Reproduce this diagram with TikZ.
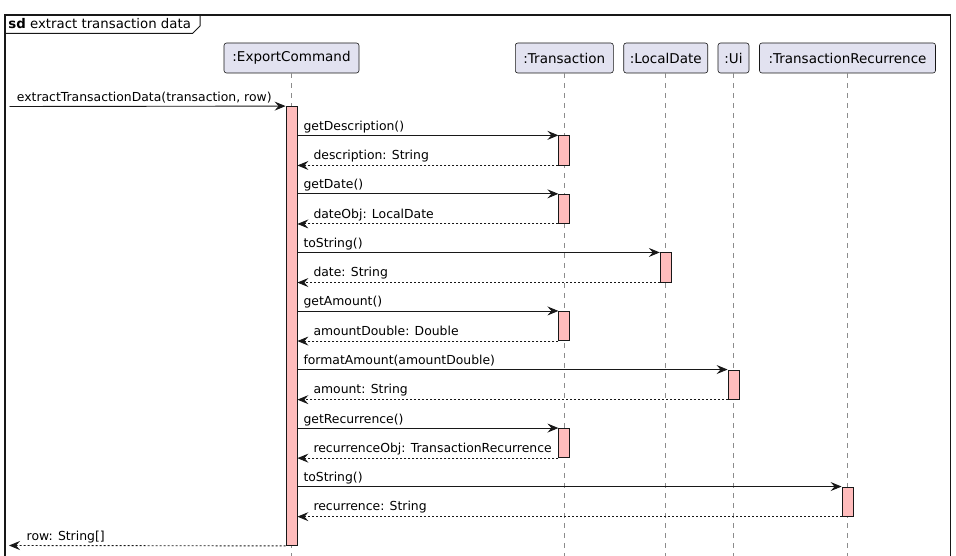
\documentclass[tikz,border=0pt]{standalone}
\usepackage{fontspec}
\setmainfont{DejaVu Sans}
\usetikzlibrary{arrows.meta}
\definecolor{partfill}{HTML}{E2E2F0}
\definecolor{actfill}{HTML}{FFBCBC}
\definecolor{ink}{HTML}{181818}
\definecolor{lifegray}{HTML}{8C8C8C}
\begin{document}
\begin{tikzpicture}[x=1pt,y=-1pt,
  part/.style={draw=ink, fill=partfill, rounded corners=2.5pt, line width=0.6pt,
    minimum height=30pt, inner sep=0pt, font=\fontsize{13.5}{16}\selectfont},
  act/.style={draw=ink, fill=actfill, line width=0.8pt, minimum width=11pt, inner sep=0pt},
  life/.style={draw=lifegray, dash pattern=on 5pt off 5pt, line width=0.7pt},
  call/.style={draw=ink, line width=0.9pt, -{Stealth[length=11pt,width=9pt,inset=4pt]}},
  ret/.style={call, dash pattern=on 2pt off 2pt},
  msg/.style={anchor=base west, inner sep=0pt, font=\fontsize{12.4}{15}\selectfont}]
\useasboundingbox (0,0) rectangle (956,556);
\clip (0,0) rectangle (956,556);
% frame
\draw[ink, line width=1.3pt] (5,15) rectangle (950.5,620);
\draw[ink, line width=1pt] (5,33.3) -- (192.7,33.3) -- (200,26) -- (200,15);
\node[anchor=base west, inner sep=0pt, font=\fontsize{13.3}{16}\selectfont] (title) at (8.3,29) {\textbf{sd} extract transaction data};
% participants
\node[part, minimum width=135pt] (pExp) at (291.5,58) {:ExportCommand};
\node[part, minimum width=98pt] (pTx) at (564.3,58) {:Transaction};
\node[part, minimum width=84pt] (pLD) at (665.7,58) {:LocalDate};
\node[part, minimum width=31pt] (pUi) at (733.5,58) {:Ui};
\node[part, minimum width=176pt] (pTR) at (847.5,58) {:TransactionRecurrence};
\coordinate (bot) at (0,600);
\foreach \p in {pExp,pTx,pLD,pUi,pTR}
  \draw[life] (\p.south) -- (\p.south |- bot);
% activations
\node[act, minimum height=439pt] (aExp) at (291.5,326) {};
\node[act, minimum height=29.3pt] (aTx1) at (564.3,150.4) {};
\node[act, minimum height=29.3pt] (aTx2) at (564.3,208.9) {};
\node[act, minimum height=29.3pt] (aLD) at (665.7,267.5) {};
\node[act, minimum height=29.3pt] (aTx3) at (564.3,326.0) {};
\node[act, minimum height=29.3pt] (aUi) at (733.5,384.6) {};
\node[act, minimum height=29.3pt] (aTx4) at (564.3,443.1) {};
\node[act, minimum height=29.3pt] (aTR) at (847.5,501.6) {};
% incoming
\coordinate (src) at (9.5,106.5);
\draw[call] (src) -- (aExp.north west);
\node[msg] (l0) at (16.7,101.3) {extractTransactionData(transaction, row)};
% calls and returns
\draw[call] (aExp.east |- aTx1.north) -- (aTx1.north west);
\node[msg] (l1) at (303.3,130.3) {getDescription()};
\draw[ret] (aTx1.south west) -- (aExp.east |- aTx1.south);
\node[msg] (l2) at (313.3,159.6) {description: String};
\draw[call] (aExp.east |- aTx2.north) -- (aTx2.north west);
\node[msg] (l3) at (303.3,188.8) {getDate()};
\draw[ret] (aTx2.south west) -- (aExp.east |- aTx2.south);
\node[msg] (l4) at (313.3,218.1) {dateObj: LocalDate};
\draw[call] (aExp.east |- aLD.north) -- (aLD.north west);
\node[msg] (l5) at (303.3,247.4) {toString()};
\draw[ret] (aLD.south west) -- (aExp.east |- aLD.south);
\node[msg] (l6) at (313.3,276.7) {date: String};
\draw[call] (aExp.east |- aTx3.north) -- (aTx3.north west);
\node[msg] (l7) at (303.3,305.9) {getAmount()};
\draw[ret] (aTx3.south west) -- (aExp.east |- aTx3.south);
\node[msg] (l8) at (313.3,335.2) {amountDouble: Double};
\draw[call] (aExp.east |- aUi.north) -- (aUi.north west);
\node[msg] (l9) at (303.3,364.5) {formatAmount(amountDouble)};
\draw[ret] (aUi.south west) -- (aExp.east |- aUi.south);
\node[msg] (l10) at (313.3,393.7) {amount: String};
\draw[call] (aExp.east |- aTx4.north) -- (aTx4.north west);
\node[msg] (l11) at (303.3,423.0) {getRecurrence()};
\draw[ret] (aTx4.south west) -- (aExp.east |- aTx4.south);
\node[msg] (l12) at (313.3,452.3) {recurrenceObj: TransactionRecurrence};
\draw[call] (aExp.east |- aTR.north) -- (aTR.north west);
\node[msg] (l13) at (303.3,481.5) {toString()};
\draw[ret] (aTR.south west) -- (aExp.east |- aTR.south);
\node[msg] (l14) at (313.3,510.8) {recurrence: String};
% outgoing
\coordinate (dst) at (9,545.5);
\draw[ret] (aExp.south west) -- (dst);
\node[msg] (l15) at (26.5,540.0) {row: String[]};
\end{tikzpicture}
\end{document}
